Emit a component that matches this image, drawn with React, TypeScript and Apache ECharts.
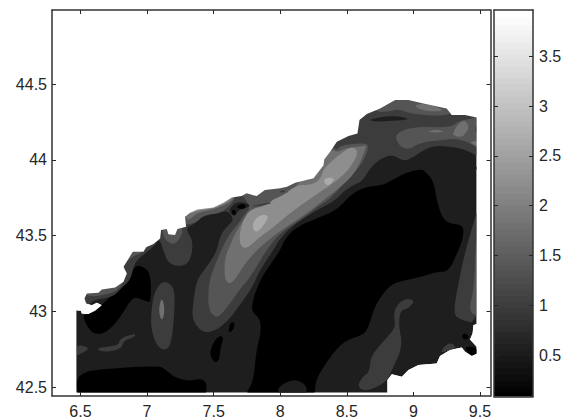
import React, { useEffect, useRef } from "react";
import * as echarts from "echarts";

type P = [number, number];

const lonRange = [6.286, 9.579];
const latRange = [42.443, 44.988];
const lonTicks = [6.5, 7, 7.5, 8, 8.5, 9, 9.5];
const latTicks = [42.5, 43, 43.5, 44, 44.5];
const barRange = [0.083, 3.967];
const barTicks = [0.5, 1, 1.5, 2, 2.5, 3, 3.5];
const barLevels = [0.11,0.17,0.23,0.29,0.35,0.42,0.48,0.54,0.60,0.66,0.72,0.78,0.84,0.90,0.96,1.02,1.08,1.14,1.20,1.26,1.33,1.39,1.45,1.51,1.57,1.63,1.69,1.75,1.81,1.87,1.93,1.99,2.05,2.11,2.17,2.24,2.30,2.36,2.42,2.48,2.54,2.60,2.66,2.72,2.78,2.84,2.90,2.96,3.02,3.08,3.15,3.21,3.27,3.33,3.39,3.45,3.51,3.57,3.63,3.69,3.75,3.81,3.87,3.94];

const levelColors = ["#000000", "#1e1e1e", "#3c3c3c", "#555555", "#707070", "#8e8e8e", "#ababab", "#ffffff"];

const coast: P[] = [[6.468,42.466],[6.468,43.009],[6.503,43.005],[6.51,42.987],[6.56,42.983],[6.61,43.005],[6.66,43.042],[6.623,43.058],[6.585,43.042],[6.543,43.053],[6.53,43.086],[6.548,43.119],[6.635,43.124],[6.66,43.146],[6.76,43.159],[6.823,43.196],[6.848,43.251],[6.823,43.295],[6.885,43.383],[6.893,43.394],[6.973,43.394],[6.993,43.423],[7.048,43.445],[7.098,43.482],[7.105,43.537],[7.148,43.544],[7.16,43.51],[7.21,43.504],[7.228,43.544],[7.293,43.559],[7.285,43.625],[7.323,43.651],[7.378,43.673],[7.498,43.686],[7.573,43.717],[7.635,43.752],[7.71,43.761],[7.748,43.779],[7.823,43.761],[7.885,43.801],[8,43.812],[8.05,43.823],[8.113,43.849],[8.25,43.878],[8.325,43.965],[8.33,44.003],[8.375,44.053],[8.425,44.119],[8.513,44.157],[8.58,44.174],[8.595,44.262],[8.65,44.302],[8.75,44.339],[8.863,44.394],[8.963,44.394],[9.075,44.372],[9.25,44.339],[9.288,44.295],[9.388,44.295],[9.475,44.28],[9.475,42.917],[9.45,42.91],[9.445,42.856],[9.425,42.816],[9.475,42.768],[9.475,42.724],[9.438,42.706],[9.388,42.735],[9.363,42.763],[9.275,42.746],[9.2,42.706],[9.175,42.658],[9.038,42.647],[8.963,42.614],[8.913,42.57],[8.838,42.587],[8.805,42.548],[8.805,42.466]];
const seaFrame: P[] = [[8.805,42.443],[9.579,42.443],[9.579,44.988],[6.286,44.988],[6.286,42.443],[6.468,42.443]];

const blackCentral: P[] = [[9.063,43.937],[8.963,43.922],[8.863,43.878],[8.775,43.834],[8.65,43.823],[8.538,43.779],[8.425,43.669],[8.275,43.614],[8.125,43.559],[8.038,43.482],[8,43.405],[7.948,43.339],[7.848,43.207],[7.793,43.075],[7.786,42.998],[7.848,42.954],[7.856,42.866],[7.823,42.757],[7.798,42.548],[7.76,42.482],[7.748,42.466],[7.77,42.466],[8.24,42.466],[8.263,42.466],[8.263,42.526],[8.3,42.603],[8.413,42.746],[8.5,42.812],[8.613,42.845],[8.655,42.878],[8.713,43.042],[8.8,43.152],[8.875,43.196],[9.05,43.225],[9.175,43.262],[9.263,43.262],[9.34,43.405],[9.375,43.493],[9.375,43.57],[9.263,43.581],[9.213,43.625],[9.175,43.735],[9.15,43.867],[9.075,43.933]];
const blackWest: P[] = [[6.91,43.306],[6.973,43.295],[7.028,43.247],[7.028,43.064],[7.003,43.064],[6.928,43.091],[6.885,43.086],[6.823,42.998],[6.773,42.932],[6.685,42.856],[6.598,42.851],[6.543,42.91],[6.518,42.976],[6.56,42.983],[6.66,43.042],[6.76,43.13],[6.835,43.185]];
const blackSouth: P[] = [[6.473,42.466],[6.473,42.559],[6.523,42.596],[6.598,42.614],[6.848,42.631],[7.098,42.642],[7.148,42.609],[7.21,42.565],[7.31,42.541],[7.398,42.559],[7.443,42.537],[7.448,42.466],[7.43,42.466],[6.49,42.466]];
const blackD: P[] = [[7.473,42.746],[7.523,42.834],[7.578,42.838],[7.548,42.746],[7.543,42.68],[7.51,42.662],[7.478,42.702]];
const blackE: P[] = [[7.61,42.856],[7.623,42.926],[7.66,42.932],[7.648,42.878]];
const blackDiamond: P[] = [[9.363,42.838],[9.388,42.86],[9.425,42.829],[9.38,42.81]];
const blackCoastSE: P[] = [[9.375,42.768],[9.463,42.768],[9.5,42.72],[9.44,42.7]];
const blackEdgeNE: P[] = [[9.46,43.95],[9.5,43.96],[9.5,43.92]];

const hillSouth: P[] = [[7.985,42.466],[7.985,42.5],[8.075,42.548],[8.15,42.543],[8.2,42.504],[8.195,42.466],[8.18,42.466],[8.0,42.466]];

const ridgeL2: P[] = [[7.423,42.856],[7.336,42.943],[7.348,43.075],[7.373,43.207],[7.448,43.295],[7.523,43.394],[7.549,43.504],[7.611,43.57],[7.649,43.603],[7.624,43.647],[7.6,43.66],[7.549,43.658],[7.411,43.625],[7.361,43.581],[7.286,43.548],[7.349,43.46],[7.324,43.328],[7.249,43.295],[7.161,43.317],[7.124,43.394],[7.094,43.482],[7.049,43.427],[6.986,43.383],[6.924,43.339],[6.899,43.295],[6.874,43.208],[6.798,43.146],[6.748,43.102],[6.673,43.086],[6.598,43.075],[6.56,43.042],[6.5,43.06],[6.5,43.2],[6.8,43.4],[7.0,43.6],[7.5,43.9],[8.0,44.1],[8.5,44.5],[9.5,44.5],[9.5,44.027],[9.474,44.027],[9.374,44.075],[9.174,44.097],[9.074,44.064],[8.962,43.998],[8.912,43.998],[8.837,44.036],[8.737,43.998],[8.674,43.943],[8.612,43.856],[8.549,43.834],[8.474,43.79],[8.399,43.724],[8.274,43.669],[8.099,43.57],[7.999,43.482],[7.948,43.405],[7.848,43.273],[7.786,43.152],[7.686,43.031],[7.611,42.943],[7.523,42.878]];
const ovalL2: P[] = [[7.048,43.119],[7.023,42.921],[7.061,42.789],[7.123,42.741],[7.173,42.768],[7.198,42.899],[7.211,43.13],[7.173,43.185],[7.111,43.201]];
const leftBlobL2: P[] = [[6.47,42.77],[6.498,42.779],[6.573,42.757],[6.485,42.713],[6.47,42.713]];
const stripL2: P[] = [[6.623,42.757],[6.698,42.768],[6.786,42.779],[6.798,42.823],[6.91,42.856],[6.91,42.834],[6.823,42.807],[6.81,42.757],[6.71,42.735],[6.648,42.739]];
const seStripL2: P[] = [[8.58,42.515],[8.625,42.574],[8.67,42.603],[8.68,42.702],[8.75,42.779],[8.85,42.878],[8.863,42.91],[8.85,43.009],[8.925,43.086],[9.013,43.075],[8.963,43.02],[8.905,43.009],[8.888,42.921],[8.92,42.768],[8.838,42.614],[8.8,42.537],[8.675,42.482],[8.613,42.482]];
const eastL2: P[] = [[9.475,43.658],[9.45,43.581],[9.4,43.427],[9.375,43.339],[9.338,43.185],[9.3,42.998],[9.338,42.948],[9.5,42.917],[9.5,43.66]];
const seBlobL2: P[] = [[9.2,42.724],[9.238,42.779],[9.288,42.794],[9.325,42.757],[9.275,42.746]];

const lensL1: P[] = [[8.663,44.267],[8.85,44.295],[8.988,44.267],[8.863,44.258],[8.7,44.251]];
const ridgeL3: P[] = [[7.523,42.954],[7.46,43.009],[7.46,43.163],[7.486,43.252],[7.536,43.362],[7.574,43.438],[7.624,43.515],[7.686,43.581],[7.736,43.647],[7.774,43.68],[7.736,43.746],[7.699,43.78],[7.75,43.85],[8.0,43.95],[8.3,44.02],[8.39,44.09],[8.424,44.064],[8.449,44.09],[8.5,44.1],[8.6,44.11],[8.669,44.104],[8.636,44.009],[8.574,43.932],[8.499,43.867],[8.436,43.801],[8.361,43.735],[8.299,43.702],[8.149,43.603],[8.049,43.548],[7.962,43.482],[7.874,43.373],[7.824,43.296],[7.749,43.197],[7.711,43.163],[7.586,43.009]];
const northL3: P[] = [[8.711,44.317],[8.811,44.317],[8.886,44.335],[8.974,44.306],[9.124,44.291],[9.286,44.295],[9.311,44.361],[9.05,44.427],[8.85,44.427],[8.711,44.361]];
const centralL3: P[] = [[8.861,44.174],[8.999,44.218],[9.286,44.214],[9.336,44.256],[9.474,44.278],[9.5,44.3],[9.5,44.05],[9.474,44.086],[9.349,44.141],[9.199,44.13],[9.049,44.113],[8.961,44.064],[8.886,44.097]];
const westCoastL3: P[] = [[7.298,43.57],[7.378,43.592],[7.423,43.636],[7.548,43.647],[7.61,43.691],[7.648,43.724],[7.7,43.85],[7.2,43.8],[7.25,43.6]];
const capL3: P[] = [[7.119,43.515],[7.136,43.471],[7.199,43.438],[7.249,43.482],[7.274,43.548],[7.2,43.6],[7.1,43.6]];
const farWestL3: P[] = [[6.56,43.097],[6.673,43.108],[6.76,43.13],[6.81,43.174],[6.835,43.229],[6.816,43.295],[6.885,43.361],[6.98,43.39],[6.9,43.5],[6.6,43.3],[6.5,43.15]];
const eastL3: P[] = [[9.47,43.5],[9.455,43.15],[9.413,42.998],[9.5,42.965],[9.5,43.5]];
const ovalCore: P[] = [[7.111,43.1],[7.085,43.009],[7.111,42.93],[7.135,43.009]];

const ridgeL4: P[] = [[7.579,43.23],[7.586,43.362],[7.624,43.438],[7.661,43.515],[7.724,43.603],[7.774,43.658],[7.937,43.707],[7.987,43.757],[8.061,43.768],[8.111,43.823],[8.3,44.0],[8.39,44.07],[8.43,44.05],[8.5,44.08],[8.62,44.09],[8.65,44.1],[8.61,44.0],[8.55,43.9],[8.425,43.801],[8.325,43.735],[8.249,43.68],[8.124,43.603],[7.974,43.515],[7.836,43.417],[7.736,43.318],[7.661,43.208],[7.611,43.179]];
const northL4: P[] = [[8.999,44.361],[9.099,44.372],[9.237,44.328],[9.162,44.317],[9.062,44.328]];
const blobL4: P[] = [[9.286,44.174],[9.374,44.273],[9.424,44.218],[9.374,44.152],[9.324,44.152]];
const lensL4: P[] = [[9.099,44.185],[9.174,44.2],[9.237,44.185],[9.162,44.179]];
const rightL4: P[] = [[9.411,44.115],[9.5,44.13],[9.5,44.085]];
const westCoastL4: P[] = [[7.292,43.6],[7.335,43.615],[7.378,43.651],[7.498,43.673],[7.585,43.703],[7.648,43.735],[7.7,43.85],[7.25,43.8]];

const ridgeL5: P[] = [[7.694,43.504],[7.699,43.438],[7.744,43.41],[7.849,43.493],[7.937,43.548],[8.086,43.658],[8.299,43.79],[8.363,43.823],[8.475,43.9],[8.538,43.965],[8.588,44.053],[8.538,44.091],[8.438,44.031],[8.325,43.943],[8.3,43.867],[8.225,43.834],[8.124,43.834],[8.024,43.768],[7.949,43.74],[7.899,43.702],[7.774,43.674],[7.724,43.603],[7.711,43.57]];
const westCoastL5: P[] = [[7.31,43.64],[7.378,43.665],[7.498,43.68],[7.58,43.71],[7.64,43.745],[7.7,43.85],[7.25,43.8]];
const farWestL5: P[] = [[6.81,43.2],[6.832,43.25],[6.808,43.295],[6.87,43.385],[6.7,43.4],[6.72,43.2]];

const ridgeL6: P[] = [[7.786,43.57],[7.836,43.636],[7.923,43.636],[7.86,43.548],[7.811,43.519]];
const tipL6: P[] = [[8.325,43.878],[8.413,43.884],[8.375,43.834],[8.338,43.834]];

const stripDark: P[] = [[7.79,43.7],[7.93,43.72],[7.93,43.71],[7.79,43.69]];
const spotL3: P[] = [[7.961,43.79],[8.011,43.812],[8.074,43.79],[8.011,43.773]];
const spotL2: P[] = [[7.986,43.79],[8.024,43.801],[8.044,43.79],[8.019,43.783]];
const edgeSpot: P[] = [[9.454,44.196],[9.5,44.25],[9.5,44.17]];
const coveL1: P[] = [[7.619,43.68],[7.674,43.724],[7.761,43.713],[7.774,43.691],[7.686,43.669],[7.661,43.625],[7.624,43.647]];
const spotF: P[] = [[7.673,43.691],[7.71,43.713],[7.748,43.697],[7.723,43.673],[7.685,43.68]];
const spotG: P[] = [[7.636,43.669],[7.661,43.669],[7.669,43.643],[7.644,43.636]];

// painter's order: lowest band first, the sea last
const layers: [number, P[]][] = [
  [1, coast],
  [0, blackCentral], [0, blackWest], [0, blackSouth], [0, blackD], [0, blackE], [0, blackDiamond], [0, blackCoastSE], [0, blackEdgeNE],
  [1, hillSouth],
  [2, ridgeL2], [2, ovalL2], [2, leftBlobL2], [2, stripL2], [2, seStripL2], [2, eastL2], [2, seBlobL2],
  [1, lensL1],
  [3, ridgeL3], [3, northL3], [3, centralL3], [3, westCoastL3], [3, capL3], [3, farWestL3], [3, eastL3],
  [4, ovalCore],
  [4, ridgeL4], [4, northL4], [4, blobL4], [4, lensL4], [4, rightL4], [4, westCoastL4],
  [5, ridgeL5], [5, westCoastL5], [5, farWestL5],
  [6, ridgeL6], [6, tipL6],
  [2, stripDark], [3, spotL3], [2, spotL2], [2, edgeSpot], [1, coveL1], [0, spotF], [0, spotG],
  [7, [...coast, ...seaFrame]],
];

// corner cutting only rounds the drawn outline; it never leaves the traced polygon's hull
function rounded(points: number[][]): number[][] {
  let out = points;
  for (let k = 0; k < 2; k++) {
    const next: number[][] = [];
    out.forEach((p, i) => {
      const q = out[(i + 1) % out.length];
      next.push([0.75 * p[0] + 0.25 * q[0], 0.75 * p[1] + 0.25 * q[1]]);
      next.push([0.25 * p[0] + 0.75 * q[0], 0.25 * p[1] + 0.75 * q[1]]);
    });
    out = next;
  }
  return out;
}

const INK = "#262626";
const FONT = "'Liberation Sans', Arial, sans-serif";

export default function App() {
  const ref = useRef<HTMLDivElement>(null);
  useEffect(() => {
    if (!ref.current) return;
    const chart = echarts.init(ref.current, undefined, { renderer: "svg" });
    const line = { show: true, onZero: false, lineStyle: { color: "#333333", width: 1.5 } };
    const tick = (values: number[]) => ({ show: true, inside: true, length: 4, customValues: values, lineStyle: { color: INK, width: 1 } });
    const label = (values: number[]) => ({ show: true, customValues: values, formatter: (v: number) => String(v), color: INK, fontSize: 16, fontFamily: FONT, margin: 7 });
    chart.setOption({
      animation: false,
      backgroundColor: "#ffffff",
      grid: [
        { left: 52, top: 10, width: 438.5, height: 386 },
        { left: 494, top: 10, width: 39, height: 386.5 },
      ],
      xAxis: [
        { type: "value", gridIndex: 0, position: "bottom", min: lonRange[0], max: lonRange[1], z: 5, axisLine: line, axisTick: tick(lonTicks), axisLabel: label(lonTicks), splitLine: { show: false } },
        { type: "value", gridIndex: 0, position: "top", min: lonRange[0], max: lonRange[1], z: 5, axisLine: line, axisTick: tick(lonTicks), axisLabel: { show: false }, splitLine: { show: false } },
        { type: "value", gridIndex: 1, position: "bottom", min: 0, max: 1, z: 5, axisLine: line, axisTick: { show: false }, axisLabel: { show: false }, splitLine: { show: false } },
        { type: "value", gridIndex: 1, position: "top", min: 0, max: 1, z: 5, axisLine: line, axisTick: { show: false }, axisLabel: { show: false }, splitLine: { show: false } },
      ],
      yAxis: [
        { type: "value", gridIndex: 0, position: "left", min: latRange[0], max: latRange[1], z: 5, axisLine: line, axisTick: tick(latTicks), axisLabel: { ...label(latTicks), margin: 5 }, splitLine: { show: false } },
        { type: "value", gridIndex: 0, position: "right", min: latRange[0], max: latRange[1], z: 5, axisLine: line, axisTick: tick(latTicks), axisLabel: { show: false }, splitLine: { show: false } },
        { type: "value", gridIndex: 1, position: "left", min: barRange[0], max: barRange[1], z: 5, axisLine: line, axisTick: tick(barTicks), axisLabel: { show: false }, splitLine: { show: false } },
        { type: "value", gridIndex: 1, position: "right", min: barRange[0], max: barRange[1], z: 5, axisLine: line, axisTick: tick(barTicks), axisLabel: { ...label(barTicks), margin: 6 }, splitLine: { show: false } },
      ],
      series: [
        {
          type: "custom",
          xAxisIndex: 0,
          yAxisIndex: 0,
          silent: true,
          data: layers.map((_, i) => [i]),
          renderItem: (params: any, api: any) => {
            const [level, pts] = layers[params.dataIndex];
            const px = pts.map((p) => api.coord(p));
            const exact = pts === coast || level === 7;
            return {
              type: "polygon",
              shape: { points: exact ? px : rounded(px) },
              style: { fill: levelColors[level] },
            };
          },
        },
        {
          type: "custom",
          xAxisIndex: 2,
          yAxisIndex: 2,
          silent: true,
          data: barLevels.map((v) => [v]),
          renderItem: (params: any, api: any) => {
            const v = barLevels[params.dataIndex];
            const top = api.coord([0, Math.min(v + 0.05, barRange[1])]);
            const bottom = api.coord([1, Math.max(v - 0.05, barRange[0])]);
            const g = Math.round((params.dataIndex / (barLevels.length - 1)) * 255);
            return {
              type: "rect",
              shape: { x: top[0], y: top[1], width: bottom[0] - top[0], height: bottom[1] - top[1] },
              style: { fill: `rgb(${g},${g},${g})` },
            };
          },
        },
      ],
    });
    return () => chart.dispose();
  }, []);
  return <div ref={ref} style={{ position: "absolute", left: 0, top: 0, width: 575, height: 419 }} />;
}
